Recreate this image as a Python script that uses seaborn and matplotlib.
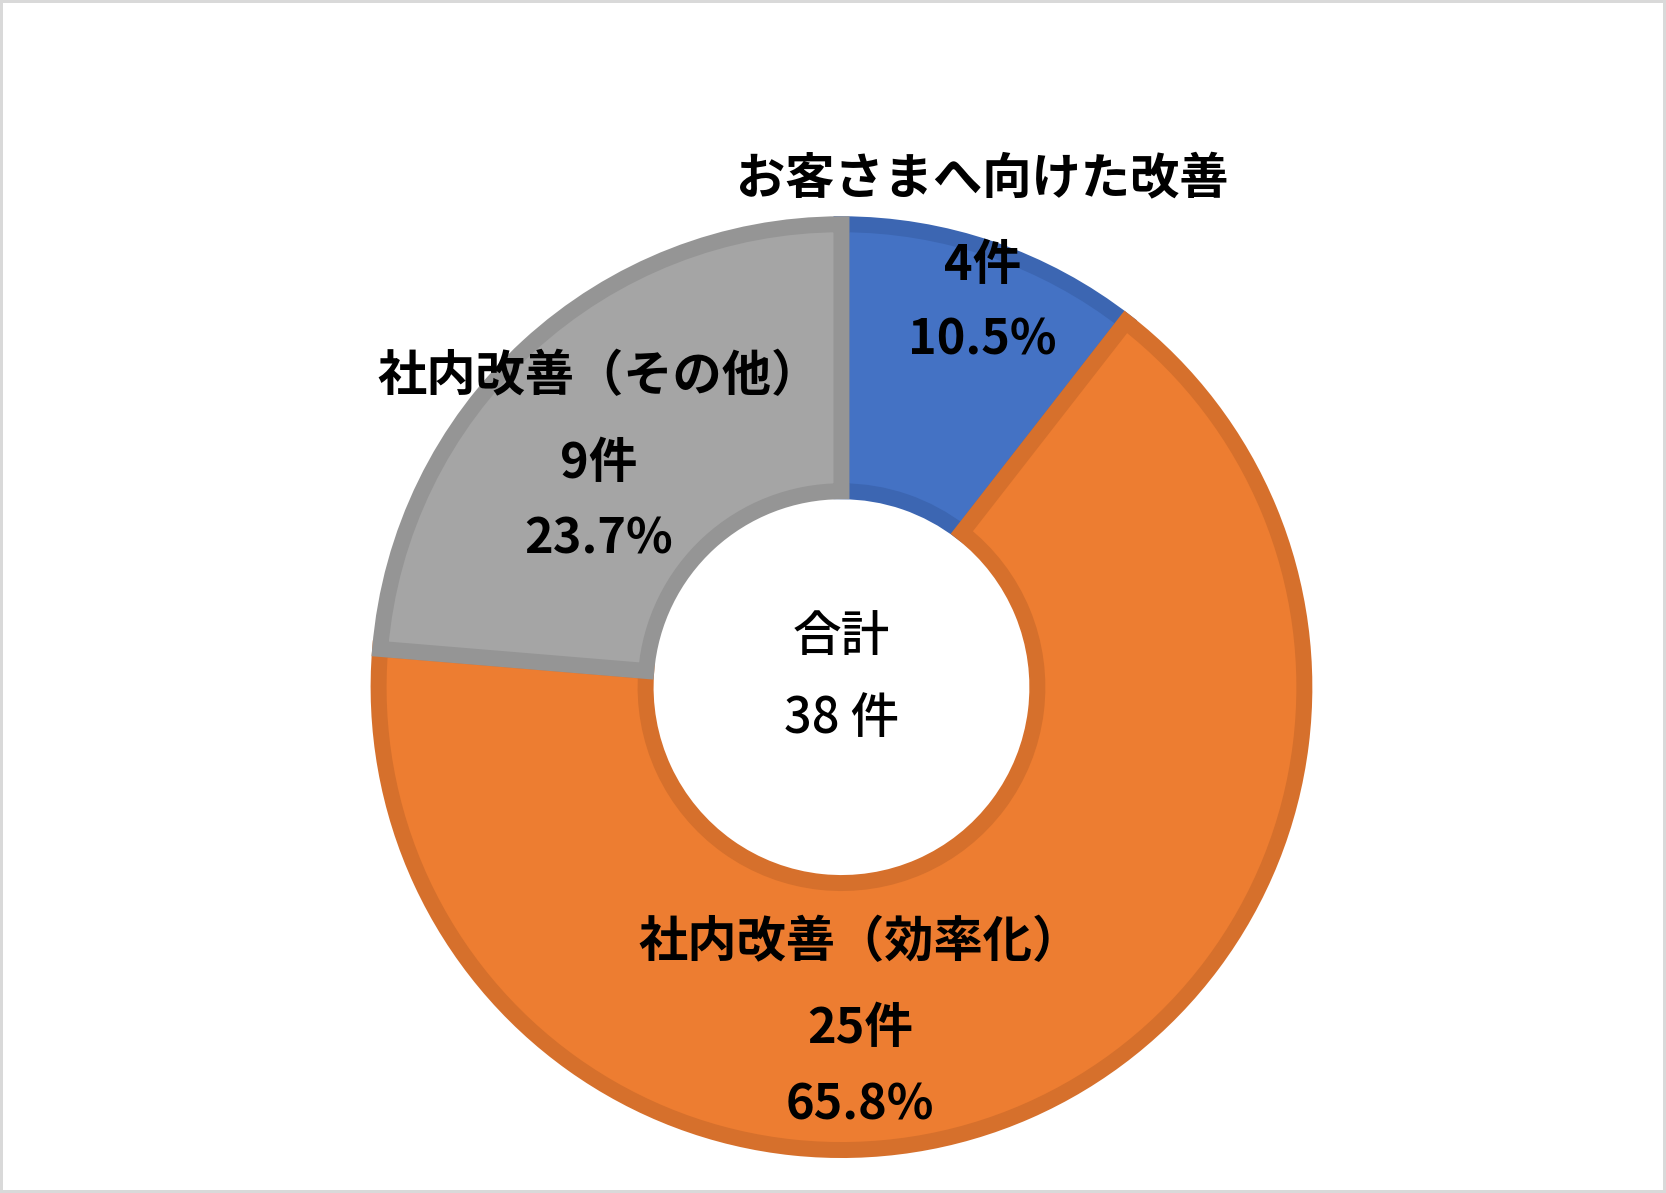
import matplotlib
matplotlib.use("Agg")
import matplotlib.pyplot as plt
import seaborn as sns

# data
categories = ["お客さまへ向けた改善", "社内改善（効率化）", "社内改善（その他）"]
counts = [4, 25, 9]
percent_labels = ["10.5%", "65.8%", "23.7%"]
total_label = "38 件"

fill_colors = ["#4472C4", "#ED7D31", "#A5A5A5"]
edge_colors = ["#3C66B2", "#D6702C", "#959595"]

sns.set_theme(style="white")
plt.rcParams['font.family'] = ['Noto Sans CJK JP', 'DejaVu Sans']
plt.rcParams['text.color'] = 'black'

fig = plt.figure(figsize=(16.66, 11.93), dpi=100,
                 edgecolor="#D9D9D9", linewidth=3)
ax = fig.add_axes([0, 0, 1, 1])

wedges, _ = ax.pie(counts, startangle=90, counterclock=False,
                   colors=fill_colors, radius=0.983,
                   wedgeprops=dict(width=0.567, linewidth=11.5))
for w, ec in zip(wedges, edge_colors):
    w.set_edgecolor(ec)
    w.set_joinstyle("miter")

ax.set_xlim(-1.787, 1.751)
ax.set_ylim(-1.074, 1.459)
ax.set_aspect("equal")
ax.axis("off")

# label positions (in radius units)
label_pos = [(0.30, 1.077, 0.896, 0.738),
             (0.04, -0.542, -0.725, -0.887),
             (-0.515, 0.659, 0.474, 0.314)]
fs = 35
for (x, y1, y2, y3), name, n, pct in zip(label_pos, categories, counts, percent_labels):
    ax.text(x, y1, name, ha="center", va="center", fontsize=fs + 0.5,
            fontweight="bold", color="black")
    ax.text(x, y2, f"{n}件", ha="center", va="center", fontsize=fs,
            fontweight="bold", color="black")
    ax.text(x, y3, pct, ha="center", va="center", fontsize=fs,
            fontweight="bold", color="black")

ax.text(0, 0.106, "合計", ha="center", va="center", fontsize=fs,
        fontweight="medium", color="black")
ax.text(0, -0.068, total_label, ha="center", va="center", fontsize=fs,
        fontweight="medium", color="black")

fig.savefig("out.png", dpi=100)
